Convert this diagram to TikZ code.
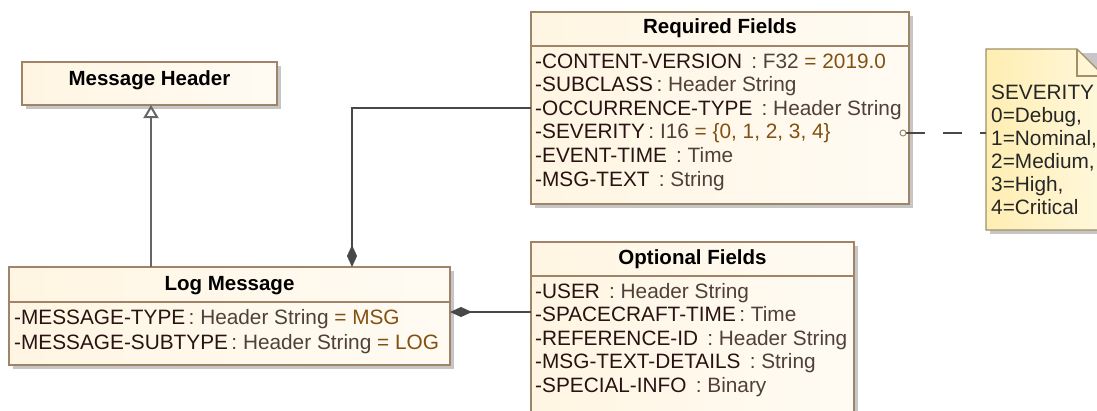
\documentclass[tikz,border=0pt]{standalone}
\usepackage{fontspec}
\setmainfont{Liberation Sans}
\usetikzlibrary{arrows.meta,shadows}

\definecolor{boxfill}{RGB}{255,245,226}
\definecolor{boxline}{RGB}{160,132,104}
\definecolor{notefill}{RGB}{255,238,178}
\definecolor{noteline}{RGB}{160,144,100}
\definecolor{attrname}{RGB}{40,18,18}
\definecolor{attrtype}{RGB}{80,64,58}
\definecolor{attrval}{RGB}{130,80,16}
\definecolor{linkgray}{RGB}{72,72,72}

\newcommand{\attr}[2]{{\color{attrname}-#1}\,{\color{attrtype}: #2}}
\newcommand{\attrv}[3]{{\color{attrname}-#1}\,{\color{attrtype}: #2} {\color{attrval}= #3}}

\tikzset{
  umlbox/.style={draw=boxline, line width=1.3pt, left color=boxfill, right color=white!60!boxfill,
    anchor=north west, inner sep=0pt, outer sep=0pt,
    drop shadow={shadow xshift=4pt, shadow yshift=-4pt, fill=gray!45, opacity=1}},
  divider/.style={draw=boxline, line width=1.3pt},
  title/.style={anchor=base, inner sep=0pt, font=\fontsize{20.5}{24}\selectfont\bfseries},
  attrtext/.style={anchor=base west, inner sep=0pt, font=\fontsize{20.8}{24}\selectfont},
  link/.style={draw=linkgray, line width=1.6pt},
  comp/.style={link, -{Diamond[width=10pt,length=22pt]}},
  gen/.style={link, draw=gray!80!black, line width=2pt, -{Triangle[open,width=15pt,length=13pt,fill=white]}},
  notelink/.style={link, dash pattern=on 19pt off 18pt}
}

\begin{document}
\begin{tikzpicture}[x=1pt,y=-1pt]
  \useasboundingbox (0,0) rectangle (1097,410);
  \clip (0,0) rectangle (1097,410);

  % class boxes
  \node[umlbox, minimum width=255pt, minimum height=43pt] (msgheader) at (22,62) {};
  \node[title] (msgheadertitle) at (149.5,85) {Message Header};

  \node[umlbox, minimum width=441pt, minimum height=98pt] (logmsg) at (9,267) {};
  \draw[divider] (9,302) -- (450,302);
  \node[title] (logmsgtitle) at (229.5,290) {Log Message};
  \node[attrtext] (lm1) at (14,324) {\attrv{MESSAGE-TYPE}{Header String}{MSG}};
  \node[attrtext] (lm2) at (14,349) {\attrv{MESSAGE-SUBTYPE}{Header String}{LOG}};

  \node[umlbox, minimum width=378pt, minimum height=192pt] (reqfields) at (531,12) {};
  \draw[divider] (531,46) -- (909,46);
  \node[title] (reqtitle) at (720,33) {Required Fields};
  \node[attrtext] (rf1) at (535,68)    {\attrv{CONTENT-VERSION }{F32}{2019.0}};
  \node[attrtext] (rf2) at (535,91.6)  {\attr{SUBCLASS}{Header String}};
  \node[attrtext] (rf3) at (535,115.2) {\attr{OCCURRENCE-TYPE }{Header String}};
  \node[attrtext] (rf4) at (535,138.8) {\attrv{SEVERITY}{I16}{\{0, 1, 2, 3, 4\}}};
  \node[attrtext] (rf5) at (535,162.4) {\attr{EVENT-TIME }{Time}};
  \node[attrtext] (rf6) at (535,186)   {\attr{MSG-TEXT }{String}};

  \node[umlbox, minimum width=323pt, minimum height=190pt] (optfields) at (531,242) {};
  \draw[divider] (531,276) -- (854,276);
  \node[title] (opttitle) at (692.5,264) {Optional Fields};
  \node[attrtext] (of1) at (535,298)   {\attr{USER }{Header String}};
  \node[attrtext] (of2) at (535,321.6) {\attr{SPACECRAFT-TIME}{Time}};
  \node[attrtext] (of3) at (535,345.2) {\attr{REFERENCE-ID }{Header String}};
  \node[attrtext] (of4) at (535,368.8) {\attr{MSG-TEXT-DETAILS }{String}};
  \node[attrtext] (of5) at (535,392.4) {\attr{SPECIAL-INFO }{Binary}};

  % note
  \node[anchor=north west, inner sep=0pt, minimum width=118pt, minimum height=181pt] (sevnote) at (986,49) {};
  \fill[gray!45] (990,53) -- (1110,53) -- (1110,234) -- (990,234) -- cycle;
  \draw[noteline, line width=1.3pt, left color=notefill, right color=white!55!notefill]
    (986,49) -- (1077,49) -- (1104,76) -- (1104,230) -- (986,230) -- cycle;
  \draw[noteline, line width=1.3pt] (1077,49) -- (1077,76) -- (1104,76);
  \node[attrtext, text=black!85] (sev0) at (991,99.5) {SEVERITY};
  \node[attrtext, text=black!85] (sev1) at (991,122.5) {0=Debug,};
  \node[attrtext, text=black!85] (sev2) at (991,145.5) {1=Nominal,};
  \node[attrtext, text=black!85] (sev3) at (991,168.5) {2=Medium,};
  \node[attrtext, text=black!85] (sev4) at (991,191.5) {3=High,};
  \node[attrtext, text=black!85] (sev5) at (991,214.5) {4=Critical};

  % connectors
  \coordinate (genx) at (151,0);
  \coordinate (reqbend) at (352,108);
  \coordinate (optrow) at (0,312);
  \coordinate (sevrow) at (0,133);
  \draw[gen] (logmsg.north -| genx) -- (msgheader.south -| genx);
  \draw[comp] (reqfields.west |- reqbend) -- (reqbend) -- (logmsg.north -| reqbend);
  \draw[comp] (optfields.west |- optrow) -- (logmsg.east |- optrow);
  \draw[notelink] ([xshift=-3pt]reqfields.east |- sevrow) -- (sevnote.west |- sevrow);
  \draw[draw=boxline, line width=1pt, fill=white] ([xshift=-6pt]reqfields.east |- sevrow) circle (3pt);
\end{tikzpicture}
\end{document}
